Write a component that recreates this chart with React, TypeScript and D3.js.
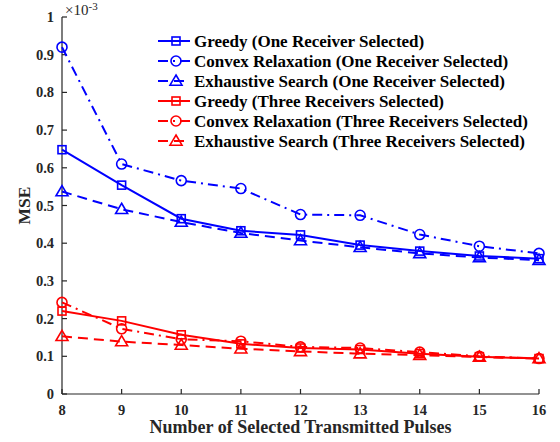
import React from "react";
import * as d3 from "d3";

const pulses = [8, 9, 10, 11, 12, 13, 14, 15, 16];
const greedyOne = [0.648, 0.554, 0.465, 0.433, 0.422, 0.395, 0.379, 0.366, 0.359];
const convexOne = [0.92, 0.61, 0.566, 0.545, 0.476, 0.474, 0.423, 0.392, 0.373];
const exhaustOne = [0.537, 0.49, 0.456, 0.427, 0.407, 0.389, 0.373, 0.362, 0.355];
const greedyThree = [0.22, 0.194, 0.157, 0.133, 0.122, 0.118, 0.107, 0.099, 0.094];
const convexThree = [0.243, 0.173, 0.145, 0.14, 0.125, 0.122, 0.111, 0.1, 0.094];
const exhaustThree = [0.153, 0.139, 0.13, 0.12, 0.113, 0.107, 0.103, 0.098, 0.094];
const yTicks = [0, 0.1, 0.2, 0.3, 0.4, 0.5, 0.6, 0.7, 0.8, 0.9, 1];
const seriesNames = [
  "Greedy (One Receiver Selected)",
  "Convex Relaxation (One Receiver Selected)",
  "Exhaustive Search (One Receiver Selected)",
  "Greedy (Three Receivers Selected)",
  "Convex Relaxation (Three Receivers Selected)",
  "Exhaustive Search (Three Receivers Selected)",
];

const BLUE = "#0000ff";
const RED = "#ff0000";
const AX = "#262626";
const FONT = "'Liberation Serif', 'Times New Roman', serif";

type Series = { name: string; values: number[]; color: string; dash: string; marker: "square" | "circle" | "triangle" };

const series: Series[] = [
  { name: seriesNames[0], values: greedyOne, color: BLUE, dash: "none", marker: "square" },
  { name: seriesNames[1], values: convexOne, color: BLUE, dash: "10,5,2,5", marker: "circle" },
  { name: seriesNames[2], values: exhaustOne, color: BLUE, dash: "10,6", marker: "triangle" },
  { name: seriesNames[3], values: greedyThree, color: RED, dash: "none", marker: "square" },
  { name: seriesNames[4], values: convexThree, color: RED, dash: "10,5,2,5", marker: "circle" },
  { name: seriesNames[5], values: exhaustThree, color: RED, dash: "10,6", marker: "triangle" },
];

function Marker({ type, x, y, color }: { type: string; x: number; y: number; color: string }) {
  const common = { fill: "none", stroke: color, strokeWidth: 1.6 };
  if (type === "square") return <rect x={x - 4} y={y - 4} width={8} height={8} {...common} />;
  if (type === "circle") return <circle cx={x} cy={y} r={5} {...common} />;
  const s = 6;
  return <path d={`M${x},${y - s} L${x + s},${y + s * 0.7} L${x - s},${y + s * 0.7} Z`} {...common} />;
}

export default function App() {
  const W = 560, H = 442;
  const x = d3.scaleLinear().domain([8, 16]).range([62, 539]);
  const y = d3.scaleLinear().domain([0, 1]).range([394, 17]);
  const line = d3.line<number>().x((_, i) => x(pulses[i])).y((v) => y(v));

  return (
    <svg width={W} height={H} style={{ position: "absolute", left: 0, top: 0 }} fontFamily={FONT}>
      <rect width={W} height={H} fill="#fff" />
      <line x1={x(8)} x2={x(16)} y1={y(0)} y2={y(0)} stroke={AX} strokeWidth={1.2} />
      <line x1={x(8)} x2={x(8)} y1={y(0)} y2={y(1)} stroke={AX} strokeWidth={1.2} />
      {pulses.map((p) => (
        <g key={"xt" + p}>
          <line x1={x(p)} x2={x(p)} y1={y(0)} y2={y(0) - 5} stroke={AX} strokeWidth={1.2} />
          <text x={x(p)} y={415} textAnchor="middle" fontSize={14.5} fontWeight="bold" fill={AX}>{p}</text>
        </g>
      ))}
      {yTicks.map((t) => (
        <g key={"yt" + t}>
          <line x1={x(8)} x2={x(8) + 5} y1={y(t)} y2={y(t)} stroke={AX} strokeWidth={1.2} />
          <text x={x(8) - 8} y={y(t) + 5} textAnchor="end" fontSize={14.5} fontWeight="bold" fill={AX}>{t === 0 || t === 1 ? String(t) : t.toFixed(1)}</text>
        </g>
      ))}
      <text x={65} y={15} fontSize={15} fill={AX}>×10<tspan dy={-5} fontSize={11}>-3</tspan></text>
      <text transform={`translate(30,${y(0.5)}) rotate(-90)`} textAnchor="middle" fontSize={17.5} fontWeight="bold" fill={AX}>MSE</text>
      <text x={x(12)} y={433} textAnchor="middle" fontSize={18} fontWeight="bold" fill={AX}>Number of Selected Transmitted Pulses</text>
      {series.map((s, si) => (
        <g key={"s" + si}>
          <path d={line(s.values) || ""} fill="none" stroke={s.color} strokeWidth={2} strokeDasharray={s.dash} />
          {s.values.map((v, i) => (
            <Marker key={i} type={s.marker} x={x(pulses[i])} y={y(v)} color={s.color} />
          ))}
        </g>
      ))}
      {series.map((s, si) => {
        const ly = 41 + si * 20;
        return (
          <g key={"l" + si}>
            <line x1={158} x2={190} y1={ly} y2={ly} stroke={s.color} strokeWidth={2} strokeDasharray={s.dash} />
            <Marker type={s.marker} x={176} y={ly} color={s.color} />
            <text x={194} y={ly + 6} fontSize={17} fontWeight="bold" fill="#000">{s.name}</text>
          </g>
        );
      })}
    </svg>
  );
}
